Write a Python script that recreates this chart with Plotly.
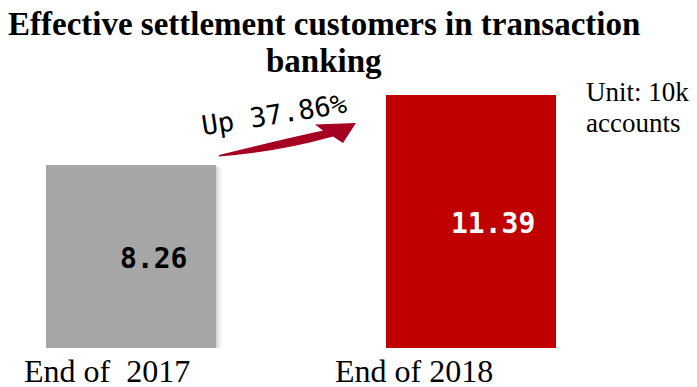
import plotly.graph_objects as go

# Data
periods = ["End of  2017", "End of 2018"]
customers = [8.26, 11.39]          # unit: 10k accounts
growth_label = "Up 37.86%"
title_lines = ["Effective settlement customers in transaction", "banking"]
unit_lines = ["Unit: 10k", "accounts"]

bar_colors = ["#A6A6A6", "#C00000"]
value_colors = ["#000000", "#FFFFFF"]

W, H = 697, 387
positions = list(range(len(customers)))


def px(x):
    return x / W


def py(y):
    return 1 - y / H


fig = go.Figure()

# soft shadow under the grey bar
for k, alpha in [(3, 0.03), (2, 0.05), (1, 0.07)]:
    fig.add_trace(go.Bar(
        x=positions, y=customers, base=[-k * 0.045, 0],
        width=0.5 + 2 * k / 340, offset=-(0.5 + 2 * k / 340) / 2 + k / 340,
        marker=dict(color=[f"rgba(0,0,0,{alpha})", "rgba(0,0,0,0)"], line=dict(width=0)),
        hoverinfo="skip", showlegend=False,
    ))

fig.add_trace(go.Bar(
    x=positions, y=customers, width=0.5,
    marker=dict(color=bar_colors, line=dict(width=0)),
    showlegend=False,
))

# value labels inside the bars
for i, v in enumerate(customers):
    fig.add_annotation(
        x=i, y=v / 2, xref="x", yref="y", text=f"<b>{v:.2f}</b>", showarrow=False,
        xshift=22, yshift=-2, xanchor="center", yanchor="middle",
        font=dict(family="DejaVu Sans Mono", size=28, color=value_colors[i]),
    )

# category labels under the bars
label_x = [107, 414]
for lx, lab in zip(label_x, periods):
    fig.add_annotation(
        x=px(lx), y=py(371), xref="paper", yref="paper", text=lab.replace("  ", "&nbsp; "),
        showarrow=False, xanchor="center", yanchor="middle",
        font=dict(family="Liberation Serif", size=32, color="#000000"),
    )

# title, two lines
for ty, line in zip([24, 61], title_lines):
    fig.add_annotation(
        x=px(324), y=py(ty), xref="paper", yref="paper", text=f"<b>{line}</b>",
        showarrow=False, xanchor="center", yanchor="middle",
        font=dict(family="Liberation Serif", size=33, color="#000000"),
    )

# unit note
for uy, line in zip([92, 123], unit_lines):
    fig.add_annotation(
        x=px(584), y=py(uy), xref="paper", yref="paper", text=line,
        showarrow=False, xanchor="left", yanchor="middle",
        font=dict(family="Liberation Serif", size=27, color="#000000"),
    )

# growth label and curved arrow
fig.add_annotation(
    x=px(274), y=py(115), xref="paper", yref="paper", text=growth_label,
    showarrow=False, textangle=-9, xanchor="center", yanchor="middle",
    font=dict(family="DejaVu Sans Mono", size=27, color="#000000"),
)

arrow_pts = [
    ("M", [(219, 155)]),
    ("Q", [(275, 141), (323, 130.5)]),
    ("L", [(315, 124.5)]),
    ("L", [(356, 123)]),
    ("L", [(343, 143)]),
    ("L", [(333, 136.5)]),
    ("Q", [(278, 152), (219, 156.5)]),
]
path = " ".join(
    cmd + " " + " ".join(f"{px(x):.5f},{py(y):.5f}" for x, y in pts) for cmd, pts in arrow_pts
) + " Z"
fig.add_shape(type="path", path=path, xref="paper", yref="paper",
              fillcolor="#A50021", line=dict(width=0))

zero_px, scale = 348, 253 / customers[1]
fig.update_layout(
    width=W, height=H,
    margin=dict(l=0, r=0, t=0, b=0),
    paper_bgcolor="white", plot_bgcolor="white",
    barmode="overlay", bargap=0,
    xaxis=dict(range=[-131 / 340, (W - 131) / 340], visible=False, fixedrange=True),
    yaxis=dict(domain=[(H - zero_px) / H, 1], range=[0, zero_px / scale],
               visible=False, fixedrange=True),
)

fig.write_html("out.html")
